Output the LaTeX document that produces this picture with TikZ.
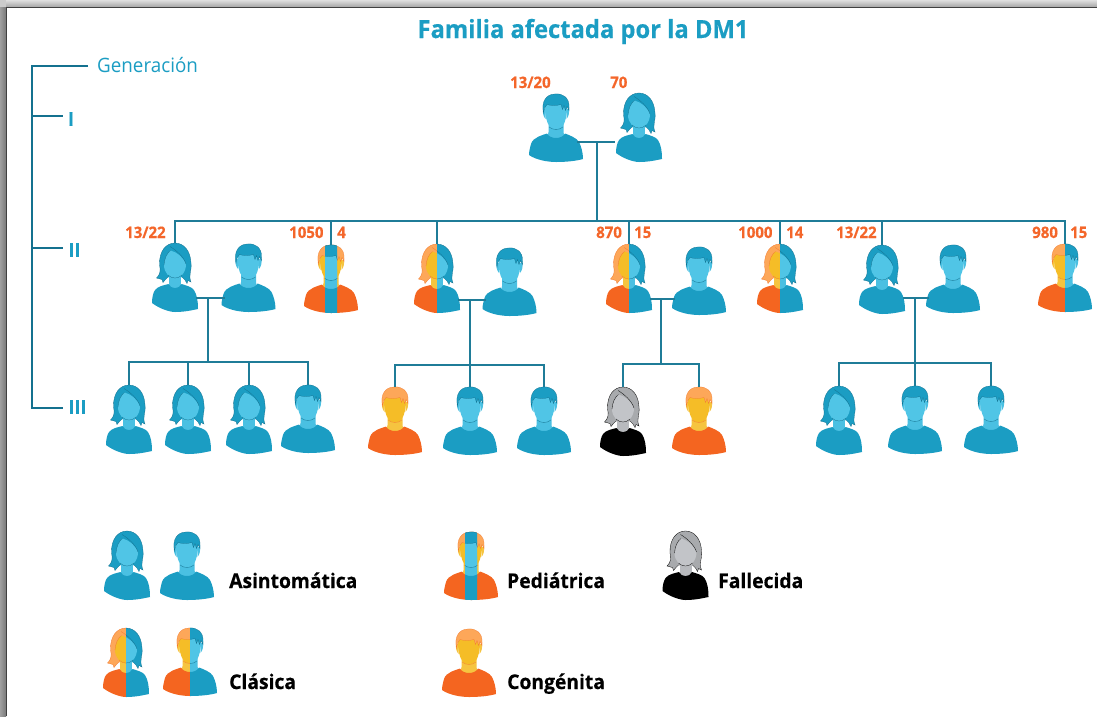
\documentclass[tikz,border=0pt]{standalone}
\usepackage{fontspec}
\setmainfont{Open Sans}[FakeStretch=0.95,BoldFeatures={FakeBold=0.4}]
\usetikzlibrary{calc}
\definecolor{mblue}{HTML}{1B9DC3}
\definecolor{mlight}{HTML}{50C5E6}
\definecolor{mneck}{HTML}{4AC0E2}
\definecolor{mdark}{HTML}{14718F}
\definecolor{oorange}{HTML}{F46520}
\definecolor{oyellow}{HTML}{F5BD27}
\definecolor{ohair}{HTML}{FDA759}
\definecolor{oneck}{HTML}{F6C440}
\definecolor{oline}{HTML}{F47A30}
\definecolor{ghair}{HTML}{A8AAAD}
\definecolor{gface}{HTML}{C2C4C8}
\definecolor{gneck}{HTML}{B8BABE}
\definecolor{conn}{HTML}{1F7C98}
\definecolor{titleblue}{HTML}{1B9DC3}
\definecolor{numorange}{HTML}{F4662A}
\newcommand\palblue{\colorlet{pbody}{mblue}\colorlet{phair}{mblue}\colorlet{pface}{mlight}\colorlet{pneck}{mneck}\colorlet{pline}{mdark}}
\newcommand\palorange{\colorlet{pbody}{oorange}\colorlet{phair}{ohair}\colorlet{pface}{oyellow}\colorlet{pneck}{oneck}\colorlet{pline}{oline}}
\newcommand\palgray{\colorlet{pbody}{black}\colorlet{phair}{ghair}\colorlet{pface}{gface}\colorlet{pneck}{gneck}\colorlet{pline}{black}}
% man, origin = top of the head, centre
\newcommand\figman{%
 \fill[pneck] (-7.5,24) -- (-7.5,38) -- (-9,46) -- (9,46) -- (7.5,38) -- (7.5,24) -- cycle;
 \fill[pbody] (-9,39.5) .. controls (-6,45.5) and (6,45.5) .. (9,39.5) .. controls (13,41) and (21,44) .. (23,48) .. controls (25,52) and (27,58) .. (27,65) .. controls (20,67) and (10,68) .. (0,68) .. controls (-8,68) and (-20,66) .. (-27,61) .. controls (-27,57) and (-26,54) .. (-25,50) .. controls (-23,43) and (-13,41) .. (-9,39.5) -- cycle;
 \fill[pneck] (-12.8,15) .. controls (-13.5,18) and (-13,22) .. (-10.5,25) -- (-10.5,15) -- cycle;
 \fill[pneck] (12.8,15) .. controls (13.5,18) and (13,22) .. (10.5,25) -- (10.5,15) -- cycle;
 \fill[pface] (-11,13) .. controls (-11,20) and (-10,28) .. (-6,33) .. controls (-3,36) and (3,36) .. (6,33) .. controls (10,28) and (11,20) .. (11,13) .. controls (11,6) and (-11,6) .. (-11,13) -- cycle;
 \draw[pline,line width=.3pt] (-7,33) .. controls (-3,36.3) and (3,36.3) .. (7,33);
 \filldraw[fill=phair,draw=pline,line width=.25pt] (-12.5,19) .. controls (-15,8) and (-10,0) .. (-1,0) .. controls (7,-1) and (13.5,4) .. (13,13) -- (13,16.5) -- (11,12.5) -- (9.5,16.5) -- (8,11.5) -- (6.5,15.5) -- (5,10.5) .. controls (0,12) and (-6,11.5) .. (-9,10.5) .. controls (-11,12) and (-12,15) .. (-12.5,19) -- cycle;
}
% woman, origin = top of the head, centre
\newcommand\figwoman{%
 \filldraw[fill=phair,draw=pline,line width=.3pt] (-15.5,22) .. controls (-16,8) and (-9,0) .. (0,0) .. controls (9,0) and (15.5,8) .. (16,20) .. controls (17,28) and (13,32) .. (16,39) -- (13,37.5) -- (12,40.5) -- (10,37) -- (7,34) -- (-7,34) -- (-10,37) -- (-12,39.5) -- (-13,36.5) -- (-18.5,35) .. controls (-15,32) and (-14,27) .. (-15.5,22) -- cycle;
 \fill[pneck] (-6,28) -- (-6,47) -- (6,47) -- (6,28) -- cycle;
 \fill[pbody] (-6.5,41) .. controls (-4,46.5) and (4,46.5) .. (6.5,41) .. controls (10,42) and (17,44) .. (19,47) .. controls (22,52) and (23,58) .. (23,66) .. controls (18,67) and (10,69) .. (0,69) .. controls (-5,69) and (-15,66) .. (-23,60) .. controls (-23,55) and (-22,50) .. (-20,47) .. controls (-17,43) and (-10,42) .. (-6.5,41) -- cycle;
 \fill[pface] (-11,22) .. controls (-10.5,15) and (-8,10) .. (-4.5,7.5) .. controls (2,9) and (9,15) .. (11,21) .. controls (11,30) and (5,35.5) .. (0,35.5) .. controls (-5,35.5) and (-11,30) .. (-11,22) -- cycle;
 \draw[pline,line width=.3pt] (-7,32) .. controls (-3,36) and (3,36) .. (7,32);
 \draw[pline,line width=.3pt] (-5,3.5) .. controls (1,7) and (9,14) .. (11,21);
 \draw[pline,line width=.3pt] (-4.5,7.5) .. controls (-8,10) and (-10.5,15) .. (-11,22);
}
\newcommand\modeblue[1]{\palblue\csname fig#1\endcsname}
\newcommand\modegray[1]{\palgray\csname fig#1\endcsname}
\newcommand\modecong[1]{\palorange\csname fig#1\endcsname}
\newcommand\modesplit[1]{%
 \begin{scope}\clip (-40,-5) rectangle (0,75);\palorange\csname fig#1\endcsname\end{scope}
 \begin{scope}\clip (0,-5) rectangle (40,75);\palblue\csname fig#1\endcsname\end{scope}}
\newcommand\modestrip[1]{%
 \palorange\csname fig#1\endcsname
 \begin{scope}\clip (-6,-5) rectangle (6,75);\palblue\csname fig#1\endcsname\end{scope}}
% \person{name}{man|woman}{mode}{cx}{top}
\newcommand\person[5]{%
 \begin{scope}[shift={(#4,#5)}]
  \coordinate (#1) at (0,0);
  \coordinate (#1-l) at (-24,50);
  \coordinate (#1-r) at (21,50);
  \csname mode#3\endcsname{#2}
 \end{scope}}
\tikzset{
 link/.style={conn,line width=1.15pt},
 bracketline/.style={mdark,line width=1.1pt},
 num/.style={font=\fontsize{15.8}{15.8}\selectfont\bfseries,text=numorange,inner sep=0,anchor=base west},
 legendtext/.style={font=\fontsize{20.3}{20.3}\selectfont\bfseries,text=black,inner sep=0,anchor=base west},
 gen/.style={font=\fontsize{19}{19}\selectfont\bfseries,text=titleblue,inner sep=0},
}
\begin{document}
\begin{tikzpicture}[x=1pt,y=-1pt]
\useasboundingbox (0,0) rectangle (1097,716);
\fill[white] (0,0) rectangle (1097,716);
% page shadow
\shade[left color=gray!75,right color=gray!95!black] (0,7) rectangle (6,716);
\shade[top color=gray!25,bottom color=gray!70] (6,0) rectangle (1097,7);
\fill[gray!40] (0,0) rectangle (6,7);
\draw[black!75,line width=.8pt] (6,716) -- (6,7) -- (1097,7);
% texts
\node[font=\fontsize{25}{25}\selectfont\bfseries,text=titleblue,inner sep=0,anchor=base] (title) at (583,38) {Familia afectada por la DM1};
\node[font=\fontsize{19.8}{19.8}\selectfont,text=titleblue,inner sep=0,anchor=base west] (gen0) at (97,72) {Generación};
\node[gen] (genI) at (71,119) {I};
\node[gen] (genII) at (74.5,250) {II};
\node[gen] (genIII) at (77.5,407) {III};
\coordinate (bt) at (32,66);
\coordinate (b0) at (88,66);
\coordinate (b1) at (63,116);
\coordinate (b2) at (63,248);
\coordinate (b3) at (63,408);
\draw[bracketline] (b0) -- (bt) |- (b3);
\draw[bracketline] (bt |- b1) -- (b1);
\draw[bracketline] (bt |- b2) -- (b2);
% numbers
\node[num] (n1) at (510,88) {13/20};
\node[num] (n2) at (610,88) {70};
\node[num] (n3) at (125,238) {13/22};
\node[num] (n4) at (289,238) {1050};
\node[num] (n5) at (337,238) {4};
\node[num] (n6) at (596,238) {870};
\node[num] (n7) at (634,238) {15};
\node[num] (n8) at (738,238) {1000};
\node[num] (n9) at (786,238) {14};
\node[num] (n10) at (836,238) {13/22};
\node[num] (n11) at (1032,238) {980};
\node[num] (n12) at (1070,238) {15};
% generation I
\person{ia}{man}{blue}{556}{94}
\person{ib}{woman}{blue}{639}{93}
% generation II
\person{a}{woman}{blue}{175}{243}
\person{b}{man}{blue}{248.5}{244}
\person{c}{man}{strip}{331}{245}
\person{d}{woman}{split}{437}{244}
\person{e}{man}{blue}{509.5}{248}
\person{f}{woman}{split}{629}{244}
\person{g}{man}{blue}{699}{247}
\person{h}{woman}{split}{780}{244}
\person{i}{woman}{blue}{882}{245}
\person{j}{man}{blue}{953}{245}
\person{k}{man}{split}{1065}{244}
% generation III
\person{a1}{woman}{blue}{129}{385}
\person{a2}{woman}{blue}{188}{385}
\person{a3}{woman}{blue}{249}{385}
\person{a4}{man}{blue}{308}{385}
\person{d1}{man}{cong}{395}{387}
\person{d2}{man}{blue}{470}{387}
\person{d3}{man}{blue}{544}{387}
\person{f1}{woman}{gray}{623}{387}
\person{f2}{man}{cong}{699}{387}
\person{i1}{woman}{blue}{839}{386}
\person{i2}{man}{blue}{915}{386}
\person{i3}{man}{blue}{991}{386}
% legend
\person{la}{woman}{blue}{127}{531}
\person{lb}{man}{blue}{187}{532}
\person{lc}{man}{strip}{471}{532}
\person{ld}{woman}{gray}{685.5}{531}
\person{le}{woman}{split}{126}{628}
\person{lf}{man}{split}{190}{628}
\person{lg}{man}{cong}{469}{629}
\node[legendtext] (t1) at (229,588) {Asintomática};
\node[legendtext] (t2) at (507,588) {Pediátrica};
\node[legendtext] (t3) at (718,588) {Fallecida};
\node[legendtext] (t4) at (229,689) {Clásica};
\node[legendtext] (t5) at (507,689) {Congénita};
% connectors
\coordinate (m0) at (597,142);
\coordinate (bus0) at (597,221);
\draw[link] (ia-r |- m0) -- (ib-l |- m0);
\draw[link] (m0) -- (bus0);
\draw[link] (a) |- (bus0);
\draw[link] (k) |- (bus0);
\foreach \n in {c,d,f,h,i} \draw[link] (\n) -- (\n |- bus0);
% couples
\coordinate (m1) at (208,298);
\coordinate (bus1) at (208,362);
\draw[link] (a-r |- m1) -- (b-l |- m1);
\draw[link] (m1) -- (bus1);
\draw[link] (a1) |- (bus1);
\draw[link] (a4) |- (bus1);
\foreach \n in {a2,a3} \draw[link] (\n) -- (\n |- bus1);
\coordinate (m2) at (470,300);
\coordinate (bus2) at (470,365);
\draw[link] (d-r |- m2) -- (e-l |- m2);
\draw[link] (m2) -- (bus2);
\draw[link] (d1) |- (bus2);
\draw[link] (d3) |- (bus2);
\draw[link] (d2) -- (d2 |- bus2);
\coordinate (m3) at (661,299);
\coordinate (bus3) at (661,364);
\draw[link] (f-r |- m3) -- (g-l |- m3);
\draw[link] (m3) -- (bus3);
\draw[link] (f1) |- (bus3);
\draw[link] (f2) |- (bus3);
\coordinate (m4) at (915,298);
\coordinate (bus4) at (915,363);
\draw[link] (i-r |- m4) -- (j-l |- m4);
\draw[link] (m4) -- (bus4);
\draw[link] (i1) |- (bus4);
\draw[link] (i3) |- (bus4);
\draw[link] (i2) -- (i2 |- bus4);
\end{tikzpicture}
\end{document}
